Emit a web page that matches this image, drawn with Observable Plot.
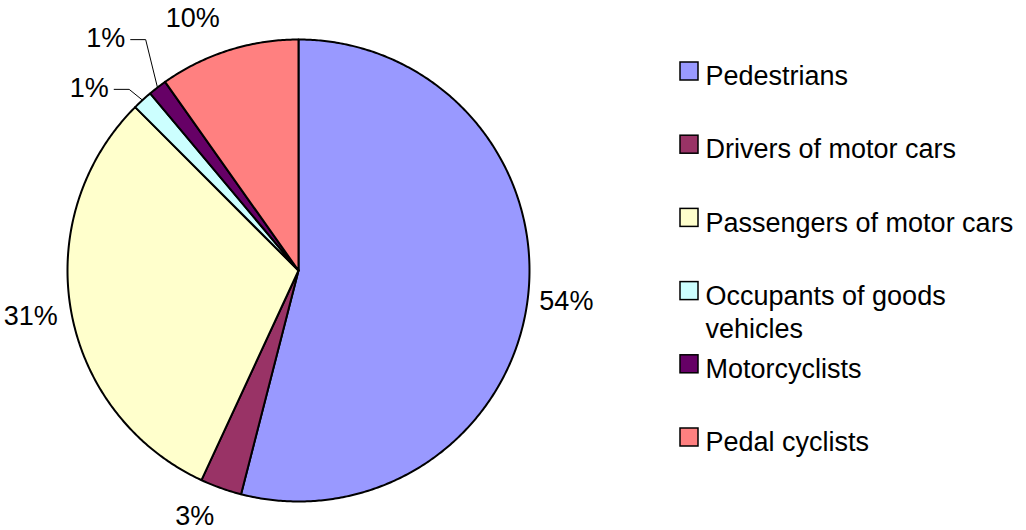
<!DOCTYPE html>
<html>
<head>
<meta charset="utf-8">
<script src="https://cdn.jsdelivr.net/npm/d3@7"></script>
<script src="https://cdn.jsdelivr.net/npm/@observablehq/plot@0.6"></script>
<style>
  html, body { margin: 0; padding: 0; background: #ffffff; }
  #chart svg { display: block; }
</style>
</head>
<body>
<div id="chart"></div>
<script>
// ---- data ----
const categories = ["Pedestrians", "Drivers of motor cars", "Passengers of motor cars", "Occupants of goods vehicles", "Motorcyclists", "Pedal cyclists"];
const legendLabels = ["Pedestrians", "Drivers of motor cars", "Passengers of motor cars", "Occupants of goods\nvehicles", "Motorcyclists", "Pedal cyclists"];
const shares = [54.0, 2.9, 30.6, 1.4, 1.3, 9.8];
const colors = ["#9999FF", "#993366", "#FFFFCC", "#CCFFFF", "#660066", "#FF8080"];

// ---- layout ----
const W = 1026, H = 530;
const cx = 298, cy = 270, r = 231;
const labelR = 270;
const labelNudge = [[0, -3], [-13, -8], [-2, -1], [-27, 17], [-28, -18], [-24, 5]];
const leaderFor = [false, false, false, true, true, false];
const legX = 680, legBox = 18, legTextX = 705, legY0 = 71, legStep = 73.2;
const fontSize = 27;

const rows = categories.map((c, i) => ({cat: c, label: legendLabels[i], value: shares[i], i}));
const arcs = d3.pie().sort(null).value(d => d.value).startAngle(0).endAngle(2 * Math.PI)(rows);

const px = (a, R) => cx + R * Math.sin(a);
const py = (a, R) => cy - R * Math.cos(a);

// slice polygons
const slicePts = [];
for (const a of arcs) {
  const cat = a.data.cat;
  slicePts.push({cat, x: cx, y: cy});
  const n = Math.max(2, Math.ceil((a.endAngle - a.startAngle) / (Math.PI / 360)));
  for (let k = 0; k <= n; k++) {
    const t = a.startAngle + (a.endAngle - a.startAngle) * k / n;
    slicePts.push({cat, x: px(t, r), y: py(t, r)});
  }
}

// labels
const labels = arcs.map((a, i) => {
  const mid = (a.startAngle + a.endAngle) / 2;
  return {
    text: Math.round(a.data.value) + "%",
    x: px(mid, labelR) + labelNudge[i][0],
    y: py(mid, labelR) + labelNudge[i][1],
    mid, i
  };
});

// leader lines for moved labels
const leaderPts = [];
labels.forEach(l => {
  if (!leaderFor[l.i]) return;
  const x0 = l.x + 25;
  leaderPts.push({k: l.i, x: x0, y: l.y + 1});
  leaderPts.push({k: l.i, x: x0 + 15, y: l.y + 1});
  leaderPts.push({k: l.i, x: px(l.mid, r), y: py(l.mid, r)});
});

const chart = Plot.plot({
  width: W,
  height: H,
  margin: 0,
  x: {domain: [0, W], range: [0, W], axis: null},
  y: {domain: [0, H], range: [0, H], axis: null},
  color: {domain: categories, range: colors},
  style: {fontFamily: "'Liberation Sans', Arial, sans-serif", background: "#ffffff", color: "#000000"},
  marks: [
    Plot.line(slicePts, {x: "x", y: "y", z: "cat", fill: "cat", stroke: "#000000", strokeWidth: 2, strokeLinejoin: "round", curve: "linear-closed"}),
    Plot.line(leaderPts, {x: "x", y: "y", z: "k", stroke: "#000000", strokeWidth: 1}),
    Plot.text(labels, {x: "x", y: "y", text: "text", fontSize, textAnchor: "middle", lineAnchor: "middle", fill: "#000000"}),
    Plot.rect(rows, {
      x1: legX, x2: legX + legBox,
      y1: d => legY0 + d.i * legStep - legBox / 2,
      y2: d => legY0 + d.i * legStep + legBox / 2,
      fill: "cat", stroke: "#000000", strokeWidth: 1.5
    }),
    Plot.text(rows, {
      x: legTextX,
      y: d => legY0 + d.i * legStep,
      text: "label",
      fontSize,
      textAnchor: "start",
      lineAnchor: "top",
      dy: -0.36 * fontSize,
      lineHeight: 1.22,
      fill: "#000000"
    })
  ]
});
document.getElementById("chart").appendChild(chart);
</script>
</body>
</html>
